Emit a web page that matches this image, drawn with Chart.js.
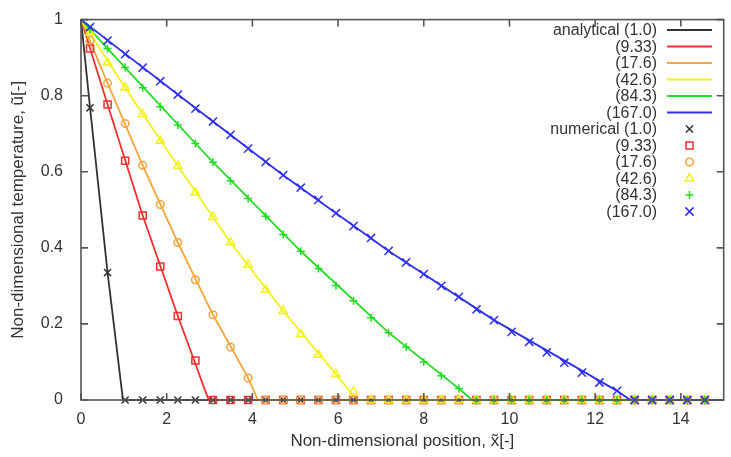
<!DOCTYPE html>
<html>
<head>
<meta charset="utf-8">
<script src="https://cdn.jsdelivr.net/npm/chart.js@4.4.0/dist/chart.umd.min.js"></script>
<style>
  html, body { margin: 0; padding: 0; background: #fff; }
  #wrap { width: 731px; height: 457px; }
</style>
</head>
<body>
<div id="wrap"><canvas id="tempChart" width="731" height="457"></canvas></div>
<script>
// Peclet-like parameter of each curve
const params = ['1.0', '9.33', '17.6', '42.6', '84.3', '167.0'];

// numerical grid (x positions of the markers)
const xNum = [0.21, 0.62, 1.03, 1.44, 1.85, 2.26, 2.67, 3.08, 3.49, 3.90, 4.31, 4.72,
  5.13, 5.54, 5.95, 6.36, 6.77, 7.18, 7.59, 8.00, 8.41, 8.82, 9.23, 9.64,
  10.05, 10.46, 10.87, 11.28, 11.69, 12.10, 12.51, 12.92, 13.33, 13.74, 14.15, 14.56];

const num1 = [0.768, 0.335, 0, 0, 0, 0, 0, 0, 0, 0, 0, 0,
  0, 0, 0, 0, 0, 0, 0, 0, 0, 0, 0, 0,
  0, 0, 0, 0, 0, 0, 0, 0, 0, 0, 0, 0];
const num9 = [0.924, 0.777, 0.629, 0.485, 0.351, 0.221, 0.104, 0, 0, 0, 0, 0,
  0, 0, 0, 0, 0, 0, 0, 0, 0, 0, 0, 0,
  0, 0, 0, 0, 0, 0, 0, 0, 0, 0, 0, 0];
const num17 = [0.945, 0.833, 0.727, 0.617, 0.514, 0.414, 0.316, 0.224, 0.139, 0.058, 0, 0,
  0, 0, 0, 0, 0, 0, 0, 0, 0, 0, 0, 0,
  0, 0, 0, 0, 0, 0, 0, 0, 0, 0, 0, 0];
const num42 = [0.965, 0.887, 0.821, 0.751, 0.681, 0.615, 0.545, 0.481, 0.414, 0.355, 0.290, 0.234,
  0.173, 0.119, 0.068, 0.022, 0, 0, 0, 0, 0, 0, 0, 0,
  0, 0, 0, 0, 0, 0, 0, 0, 0, 0, 0, 0];
const num84 = [0.974, 0.924, 0.874, 0.821, 0.771, 0.723, 0.674, 0.625, 0.576, 0.530, 0.483, 0.435,
  0.391, 0.346, 0.301, 0.261, 0.216, 0.177, 0.139, 0.100, 0.064, 0.030, 0, 0,
  0, 0, 0, 0, 0, 0, 0, 0, 0, 0, 0, 0];
const num167 = [0.980, 0.945, 0.909, 0.874, 0.838, 0.803, 0.766, 0.732, 0.697, 0.661, 0.626, 0.591,
  0.558, 0.526, 0.491, 0.457, 0.426, 0.392, 0.362, 0.331, 0.300, 0.271, 0.238, 0.210,
  0.179, 0.153, 0.125, 0.098, 0.072, 0.046, 0.024, 0, 0, 0, 0, 0];

// analytical curves, vertices
const ana1X = [0, 0.21, 0.62, 0.98, 15];
const ana1Y = [1, 0.77, 0.335, 0, 0];
const ana9X = [0, 0.62, 1.44, 2.26, 2.98, 15];
const ana9Y = [1, 0.777, 0.485, 0.221, 0, 0];
const ana17X = [0, 0.62, 1.44, 2.26, 3.08, 3.90, 4.13, 15];
const ana17Y = [1, 0.833, 0.617, 0.414, 0.224, 0.058, 0, 0];
const ana42X = [0, 1.03, 2.26, 3.49, 4.72, 5.95, 6.44, 15];
const ana42Y = [1, 0.821, 0.615, 0.414, 0.234, 0.068, 0, 0];
const ana84X = [0, 1.03, 3.08, 5.13, 7.18, 8.82, 9.13, 15];
const ana84Y = [1, 0.874, 0.625, 0.391, 0.177, 0.030, 0, 0];
const ana167X = [0, 2.26, 4.72, 7.18, 9.64, 12.51, 12.82, 15];
const ana167Y = [1, 0.803, 0.591, 0.392, 0.210, 0.024, 0, 0];

const xTicks = [0, 2, 4, 6, 8, 10, 12, 14];
const yTicks = [0, 0.2, 0.4, 0.6, 0.8, 1];

const colors = ['#333333', '#ee3030', '#f5a53a', '#f2f21a', '#22dd22', '#3030ee'];
const markers = ['crossRot', 'rect', 'circle', 'triangle', 'cross', 'crossRot'];
const markerSize = [5, 5, 3.8, 4.8, 4, 5.8];
const FONT = '"Liberation Sans", Arial, sans-serif';

const anaX = [ana1X, ana9X, ana17X, ana42X, ana84X, ana167X];
const anaY = [ana1Y, ana9Y, ana17Y, ana42Y, ana84Y, ana167Y];
const numY = [num1, num9, num17, num42, num84, num167];

const pairs = (xs, ys) => xs.map((x, i) => ({ x: x, y: ys[i] }));

const datasets = [];
params.forEach((p, i) => {
  datasets.push({
    label: i === 0 ? 'analytical (' + p + ')' : '(' + p + ')',
    data: pairs(anaX[i], anaY[i]),
    showLine: true,
    borderColor: colors[i],
    borderWidth: 1.8,
    pointRadius: 0,
    fill: false,
    clip: false,
    order: 20 - i,
    legendKind: 'line'
  });
});
params.forEach((p, i) => {
  datasets.push({
    label: i === 0 ? 'numerical (' + p + ')' : '(' + p + ')',
    data: pairs(xNum, numY[i]),
    showLine: false,
    borderColor: colors[i],
    backgroundColor: 'rgba(0,0,0,0)',
    pointStyle: markers[i],
    pointRadius: markerSize[i],
    pointBorderWidth: 1.5,
    pointBorderColor: colors[i],
    pointBackgroundColor: 'rgba(0,0,0,0)',
    clip: false,
    order: 10 - i,
    legendKind: 'point'
  });
});

// gnuplot-like frame with inward ticks on all four sides
const framePlugin = {
  id: 'frame',
  afterDatasetsDraw(chart) {
    const { ctx, chartArea: a, scales } = chart;
    ctx.save();
    ctx.strokeStyle = '#555';
    ctx.lineWidth = 1.6;
    ctx.strokeRect(a.left, a.top, a.right - a.left, a.bottom - a.top);
    const tl = 7;
    ctx.beginPath();
    xTicks.forEach(v => {
      const px = scales.x.getPixelForValue(v);
      ctx.moveTo(px, a.bottom); ctx.lineTo(px, a.bottom - tl);
      ctx.moveTo(px, a.top); ctx.lineTo(px, a.top + tl);
    });
    yTicks.forEach(v => {
      const py = scales.y.getPixelForValue(v);
      ctx.moveTo(a.left, py); ctx.lineTo(a.left + tl, py);
      ctx.moveTo(a.right, py); ctx.lineTo(a.right - tl, py);
    });
    ctx.stroke();
    ctx.restore();
  }
};

// key in the top right corner: right aligned text, sample to its right
const keyPlugin = {
  id: 'key',
  afterDraw(chart) {
    const ctx = chart.ctx;
    const textRight = 657, sampleL = 667, sampleR = 712, top = 30, step = 16.5;
    ctx.save();
    ctx.font = '16px ' + FONT;
    ctx.textAlign = 'right';
    ctx.textBaseline = 'middle';
    chart.data.datasets.forEach((ds, i) => {
      const y = top + i * step;
      ctx.fillStyle = '#333';
      ctx.fillText(ds.label, textRight, y + 1);
      if (ds.legendKind === 'line') {
        ctx.strokeStyle = ds.borderColor;
        ctx.lineWidth = ds.borderWidth;
        ctx.beginPath();
        ctx.moveTo(sampleL, y); ctx.lineTo(sampleR, y);
        ctx.stroke();
      } else {
        ctx.strokeStyle = ds.pointBorderColor;
        ctx.fillStyle = 'rgba(0,0,0,0)';
        ctx.lineWidth = ds.pointBorderWidth;
        Chart.helpers.drawPoint(ctx, { pointStyle: ds.pointStyle, radius: ds.pointRadius, borderWidth: ds.pointBorderWidth, rotation: 0 }, (sampleL + sampleR) / 2, y);
      }
    });
    ctx.restore();
  }
};

const ctx = document.getElementById('tempChart').getContext('2d');
new Chart(ctx, {
  type: 'scatter',
  data: { datasets: datasets },
  options: {
    responsive: false,
    animation: false,
    layout: { padding: { top: 15, right: 2, left: 0, bottom: 0 } },
    plugins: {
      legend: { display: false },
      tooltip: { enabled: false }
    },
    scales: {
      x: {
        type: 'linear',
        min: 0,
        max: 15,
        afterFit: s => { s.height = 57; },
        afterBuildTicks: s => { s.ticks = xTicks.map(v => ({ value: v })); },
        grid: { display: false },
        border: { display: false },
        ticks: {
          padding: 2,
          color: '#333',
          font: { family: FONT, size: 16 }
        },
        title: {
          display: true,
          text: 'Non-dimensional position, x\u0303[-]',
          color: '#333',
          padding: { top: 0, bottom: 5 },
          font: { family: FONT, size: 17 }
        }
      },
      y: {
        type: 'linear',
        min: 0,
        max: 1,
        afterFit: s => { s.width = 81; },
        afterBuildTicks: s => { s.ticks = yTicks.map(v => ({ value: v })); },
        grid: { display: false },
        border: { display: false },
        ticks: {
          padding: 10,
          color: '#333',
          font: { family: FONT, size: 16 },
          callback: v => String(Math.round(v * 10) / 10)
        },
        title: {
          display: true,
          text: 'Non-dimensional temperature, u\u0303[-]',
          color: '#333',
          padding: { top: 8, bottom: 4 },
          font: { family: FONT, size: 17 }
        }
      }
    }
  },
  plugins: [framePlugin, keyPlugin]
});
</script>
</body>
</html>
